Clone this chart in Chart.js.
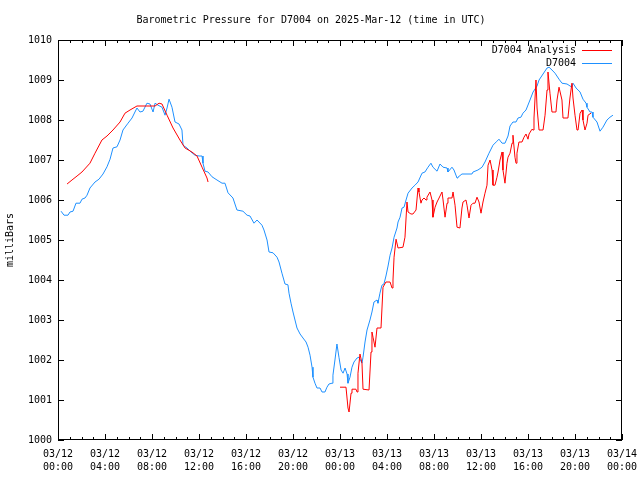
<!DOCTYPE html>
<html>
<head>
<meta charset="utf-8">
<script src="https://cdn.jsdelivr.net/npm/chart.js@4.4.1/dist/chart.umd.min.js"></script>
<style>
  body { margin: 0; background: #fff; }
</style>
</head>
<body>
<canvas id="presion" width="640" height="480"></canvas>
<script>
// Barometric pressure D7004, hours counted from 03/12 00:00 UTC
const titulo = 'Barometric Pressure for D7004 on 2025-Mar-12 (time in UTC)';
const series = ['D7004 Analysis', 'D7004'];
const xTickLabels = [
  ['03/12', '00:00'], ['03/12', '04:00'], ['03/12', '08:00'], ['03/12', '12:00'],
  ['03/12', '16:00'], ['03/12', '20:00'], ['03/13', '00:00'], ['03/13', '04:00'],
  ['03/13', '08:00'], ['03/13', '12:00'], ['03/13', '16:00'], ['03/13', '20:00'],
  ['03/14', '00:00']];
const yTickLabels = ['1000', '1001', '1002', '1003', '1004', '1005', '1006', '1007', '1008', '1009', '1010'];

// station D7004 (blue)
const horasEst = [
  0.26, 0.51, 0.85, 1.02, 1.28, 1.53, 1.87, 2.04, 2.30, 2.47,
  2.72, 3.15, 3.49, 3.83, 4.17, 4.43, 4.68, 5.02, 5.28, 5.53,
  5.96, 6.30, 6.55, 6.72, 6.98, 7.23, 7.57, 7.83, 8.09, 8.26,
  8.51, 8.85, 9.11, 9.28, 9.45, 9.70, 9.96, 10.30, 10.55, 10.64,
  10.98, 11.32, 11.66, 12.00, 12.26, 12.34, 12.51, 12.77, 13.11, 13.53,
  13.96, 14.21, 14.47, 14.89, 15.23, 15.74, 16.09, 16.34, 16.68, 16.94,
  17.36, 17.53, 17.79, 17.96, 18.30, 18.64, 18.81, 19.06, 19.32, 19.57,
  19.66, 19.83, 20.00, 20.17, 20.34, 20.60, 20.85, 21.11, 21.28, 21.45,
  21.62, 21.70, 21.87, 22.04, 22.30, 22.47, 22.72, 22.89, 23.06, 23.32,
  23.40, 23.57, 23.74, 23.91, 24.09, 24.26, 24.43, 24.60, 24.68, 24.85,
  25.02, 25.19, 25.45, 25.62, 25.87, 25.96, 26.13, 26.30, 26.55, 26.72,
  26.89, 27.15, 27.23, 27.40, 27.57, 27.74, 27.91, 28.09, 28.26, 28.43,
  28.60, 28.85, 28.94, 29.11, 29.28, 29.45, 29.62, 29.79, 30.13, 30.38,
  30.64, 30.98, 31.23, 31.49, 31.74, 31.91, 32.26, 32.51, 32.77, 33.11,
  33.19, 33.53, 33.70, 33.96, 34.04, 34.38, 35.23, 35.32, 35.74, 36.09,
  36.34, 36.68, 37.02, 37.36, 37.53, 37.79, 38.04, 38.30, 38.47, 38.72,
  38.98, 39.15, 39.40, 39.57, 39.83, 40.17, 40.43, 40.77, 40.94, 41.28,
  41.62, 41.79, 42.04, 42.30, 42.64, 42.89, 43.32, 43.74, 43.83, 44.09,
  44.43, 44.68, 44.94, 45.02, 45.28, 45.45, 45.53, 45.87, 46.13, 46.38,
  46.72, 46.98, 47.23];
const presEst = [
  1005.72, 1005.62, 1005.62, 1005.70, 1005.72, 1005.92, 1005.92, 1006.02, 1006.05, 1006.12,
  1006.30, 1006.45, 1006.52, 1006.65, 1006.83, 1007.02, 1007.30, 1007.33, 1007.50, 1007.75,
  1007.92, 1008.05, 1008.20, 1008.30, 1008.20, 1008.22, 1008.42, 1008.40, 1008.20, 1008.42,
  1008.37, 1008.32, 1008.12, 1008.30, 1008.52, 1008.32, 1007.95, 1007.90, 1007.75, 1007.37,
  1007.30, 1007.20, 1007.12, 1007.10, 1007.10, 1006.92, 1006.72, 1006.70, 1006.58, 1006.50,
  1006.42, 1006.42, 1006.18, 1006.05, 1005.75, 1005.72, 1005.62, 1005.60, 1005.42, 1005.50,
  1005.37, 1005.25, 1005.00, 1004.70, 1004.68, 1004.57, 1004.45, 1004.17, 1003.90, 1003.88,
  1003.67, 1003.42, 1003.20, 1003.00, 1002.80, 1002.65, 1002.55, 1002.45, 1002.32, 1002.12,
  1001.82, 1001.57, 1001.42, 1001.30, 1001.30, 1001.20, 1001.20, 1001.32, 1001.40, 1001.42,
  1001.62, 1002.00, 1002.40, 1002.07, 1001.75, 1001.67, 1001.80, 1001.65, 1001.42, 1001.57,
  1001.82, 1001.95, 1002.05, 1002.07, 1001.92, 1002.07, 1002.45, 1002.75, 1003.00, 1003.20,
  1003.45, 1003.50, 1003.42, 1003.67, 1003.87, 1003.90, 1004.10, 1004.35, 1004.62, 1004.80,
  1005.07, 1005.30, 1005.45, 1005.57, 1005.80, 1005.82, 1006.00, 1006.17, 1006.30, 1006.37,
  1006.45, 1006.67, 1006.70, 1006.82, 1006.92, 1006.82, 1006.72, 1006.90, 1006.82, 1006.80,
  1006.70, 1006.82, 1006.75, 1006.55, 1006.57, 1006.65, 1006.65, 1006.70, 1006.75, 1006.82,
  1006.95, 1007.17, 1007.37, 1007.47, 1007.52, 1007.42, 1007.42, 1007.60, 1007.85, 1007.95,
  1007.95, 1008.05, 1008.07, 1008.17, 1008.25, 1008.50, 1008.70, 1008.85, 1009.00, 1009.15,
  1009.30, 1009.32, 1009.25, 1009.17, 1009.02, 1008.92, 1008.90, 1008.82, 1008.92, 1008.80,
  1008.70, 1008.52, 1008.42, 1008.32, 1008.20, 1008.20, 1008.07, 1007.95, 1007.72, 1007.82,
  1008.00, 1008.07, 1008.12];

// analysis (red), two pieces with a gap between them
const horasAna = [
  0.77, 1.19, 1.62, 2.04, 2.72, 3.15, 3.74, 4.17, 4.68, 5.28,
  5.70, 6.13, 6.72, 7.57, 8.26, 8.60, 8.85, 9.28, 9.79, 10.38,
  10.81, 11.40, 11.83, 12.26, 12.68, 12.77,
  18.00,
  24.00, 24.51, 24.68, 24.77, 24.94, 25.02, 25.36, 25.45, 25.53, 25.70,
  25.87, 25.96, 26.47, 26.64, 26.72, 26.81, 26.98, 27.15, 27.49, 27.66,
  27.91, 28.26, 28.43, 28.51, 28.60, 28.77, 28.94, 29.36, 29.53, 29.70,
  29.79, 30.04, 30.21, 30.47, 30.64, 30.72, 30.89, 30.98, 31.15, 31.32,
  31.40, 31.66, 31.83, 31.91, 32.09, 32.26, 32.43, 32.68, 32.77, 32.94,
  33.11, 33.19, 33.53, 33.62, 33.79, 33.96, 34.21, 34.38, 34.47, 34.72,
  34.81, 34.98, 35.15, 35.32, 35.49, 35.66, 35.83, 36.00, 36.17, 36.34,
  36.51, 36.60, 36.77, 36.94, 37.02, 37.19, 37.36, 37.45, 37.62, 37.79,
  37.87, 38.04, 38.21, 38.30, 38.47, 38.64, 38.72, 38.89, 38.98, 39.06,
  39.23, 39.49, 39.66, 39.83, 40.00, 40.09, 40.34, 40.43, 40.51, 40.68,
  40.77, 40.94, 41.28, 41.45, 41.62, 41.70, 41.87, 42.04, 42.38, 42.47,
  42.64, 42.89, 42.98, 43.40, 43.57, 43.74, 43.83, 44.00, 44.17, 44.26,
  44.43, 44.60, 44.68, 44.85, 45.02, 45.11, 45.36];
const presAna = [
  1006.40, 1006.50, 1006.60, 1006.70, 1006.92, 1007.17, 1007.50, 1007.60, 1007.75, 1007.95,
  1008.17, 1008.25, 1008.35, 1008.35, 1008.35, 1008.42, 1008.40, 1008.12, 1007.80, 1007.50,
  1007.30, 1007.20, 1007.10, 1006.82, 1006.55, 1006.45,
  null,
  1001.32, 1001.32, 1000.80, 1000.70, 1001.17, 1001.27, 1001.27, 1001.20, 1001.67, 1002.15,
  1001.92, 1001.27, 1001.25, 1002.20, 1002.70, 1002.57, 1002.32, 1002.80, 1002.80, 1003.82,
  1003.95, 1003.95, 1003.80, 1004.00, 1004.57, 1005.02, 1004.80, 1004.82, 1005.07, 1005.95,
  1005.70, 1005.65, 1005.65, 1005.75, 1006.30, 1006.20, 1005.92, 1006.00, 1006.05, 1006.00,
  1006.07, 1006.20, 1006.00, 1005.57, 1005.82, 1005.95, 1006.05, 1006.20, 1006.00, 1005.57,
  1005.92, 1006.05, 1006.05, 1006.20, 1005.87, 1005.32, 1005.30, 1005.80, 1005.95, 1006.00,
  1005.87, 1005.55, 1005.87, 1005.92, 1005.92, 1006.07, 1005.95, 1005.67, 1005.95, 1006.17,
  1006.37, 1006.87, 1007.00, 1006.75, 1006.37, 1006.37, 1006.57, 1006.70, 1007.00, 1007.20,
  1006.75, 1006.42, 1006.92, 1007.07, 1007.17, 1007.42, 1007.62, 1007.07, 1006.92, 1007.17,
  1007.45, 1007.45, 1007.57, 1007.65, 1007.52, 1007.65, 1007.77, 1007.75, 1008.05, 1009.00,
  1008.30, 1007.75, 1007.75, 1008.12, 1008.75, 1009.20, 1008.67, 1008.20, 1008.20, 1008.50,
  1008.82, 1008.50, 1008.05, 1008.05, 1008.55, 1008.92, 1008.55, 1008.12, 1007.75, 1007.75,
  1008.17, 1008.25, 1008.00, 1007.75, 1007.92, 1008.12, 1008.17];

const yMin = 1000, yMax = 1010;
const fuente = '"DejaVu Sans Mono", monospace';

const puntos = (hs, ps) => hs.map((h, i) => ({x: h, y: ps[i]}));

// frame with inward ticks (hourly minor, 4-hourly major) like the original plot
const marco = {
  id: 'marco',
  afterDraw(chart) {
    const {ctx, chartArea: a, scales: {x, y}} = chart;
    ctx.save();
    ctx.strokeStyle = '#000';
    ctx.lineWidth = 1;
    ctx.strokeRect(a.left + 0.5, a.top + 0.5, a.right - a.left - 1, a.bottom - a.top - 1);
    ctx.beginPath();
    for (let h = x.min; h <= x.max; h++) {
      const px = Math.round(x.getPixelForValue(h)) + 0.5;
      const largo = h % 4 === 0 ? 6 : 3;
      ctx.moveTo(px, a.bottom); ctx.lineTo(px, a.bottom - largo);
      ctx.moveTo(px, a.top); ctx.lineTo(px, a.top + largo);
    }
    for (let v = y.min; v <= y.max; v++) {
      const py = Math.round(y.getPixelForValue(v)) + 0.5;
      ctx.moveTo(a.left, py); ctx.lineTo(a.left + 6, py);
      ctx.moveTo(a.right, py); ctx.lineTo(a.right - 6, py);
    }
    ctx.stroke();
    ctx.restore();
  }
};

// legend inside the plot, text on the left, line sample on the right
const leyenda = {
  id: 'leyenda',
  afterDraw(chart) {
    const {ctx, chartArea: a} = chart;
    ctx.save();
    ctx.font = '10px ' + fuente;
    ctx.textAlign = 'right';
    ctx.textBaseline = 'middle';
    chart.data.datasets.forEach((ds, i) => {
      const yy = a.top + 10 + i * 13;
      ctx.fillStyle = '#000';
      ctx.fillText(ds.label, a.right - 46, yy);
      ctx.strokeStyle = ds.borderColor;
      ctx.lineWidth = 1;
      ctx.beginPath();
      ctx.moveTo(a.right - 40, yy + 0.5);
      ctx.lineTo(a.right - 10, yy + 0.5);
      ctx.stroke();
    });
    ctx.restore();
  }
};

Chart.defaults.font.family = fuente;
Chart.defaults.font.size = 10;
Chart.defaults.color = '#000';

const ctx = document.getElementById('presion').getContext('2d');
const grafico = new Chart(ctx, {
  type: 'line',
  data: {
    datasets: [
      {label: series[0], data: puntos(horasAna, presAna), borderColor: '#ff0000',
       borderWidth: 1, pointRadius: 0, tension: 0, spanGaps: false},
      {label: series[1], data: puntos(horasEst, presEst), borderColor: '#1e90ff',
       borderWidth: 1, pointRadius: 0, tension: 0}
    ]
  },
  options: {
    responsive: false,
    animation: false,
    devicePixelRatio: 1,
    layout: {padding: {left: 0, right: 18, top: 0, bottom: 0}},
    plugins: {
      legend: {display: false},
      tooltip: {enabled: false},
      title: {display: true, text: titulo, font: {size: 10, weight: 'normal'},
              color: '#000', padding: {top: 14, bottom: 14}}
    },
    scales: {
      x: {
        type: 'linear', min: 0, max: 48,
        grid: {display: false, drawTicks: false},
        border: {display: false},
        ticks: {stepSize: 4, autoSkip: false, maxRotation: 0, padding: 8,
                font: {size: 10, lineHeight: 1.3},
                callback: (v) => xTickLabels[v / 4]},
        afterFit: (s) => { s.height = 40; s.paddingLeft = 0; s.paddingRight = 0; }
      },
      y: {
        min: yMin, max: yMax,
        grid: {display: false, drawTicks: false},
        border: {display: false},
        ticks: {stepSize: 1, padding: 6, callback: (v) => yTickLabels[v - yMin]},
        title: {display: true, text: 'milliBars', padding: {top: 4, bottom: 0}},
        afterFit: (s) => { s.width = 58; s.paddingTop = 0; s.paddingBottom = 0; }
      }
    }
  },
  plugins: [marco, leyenda]
});
</script>
</body>
</html>
